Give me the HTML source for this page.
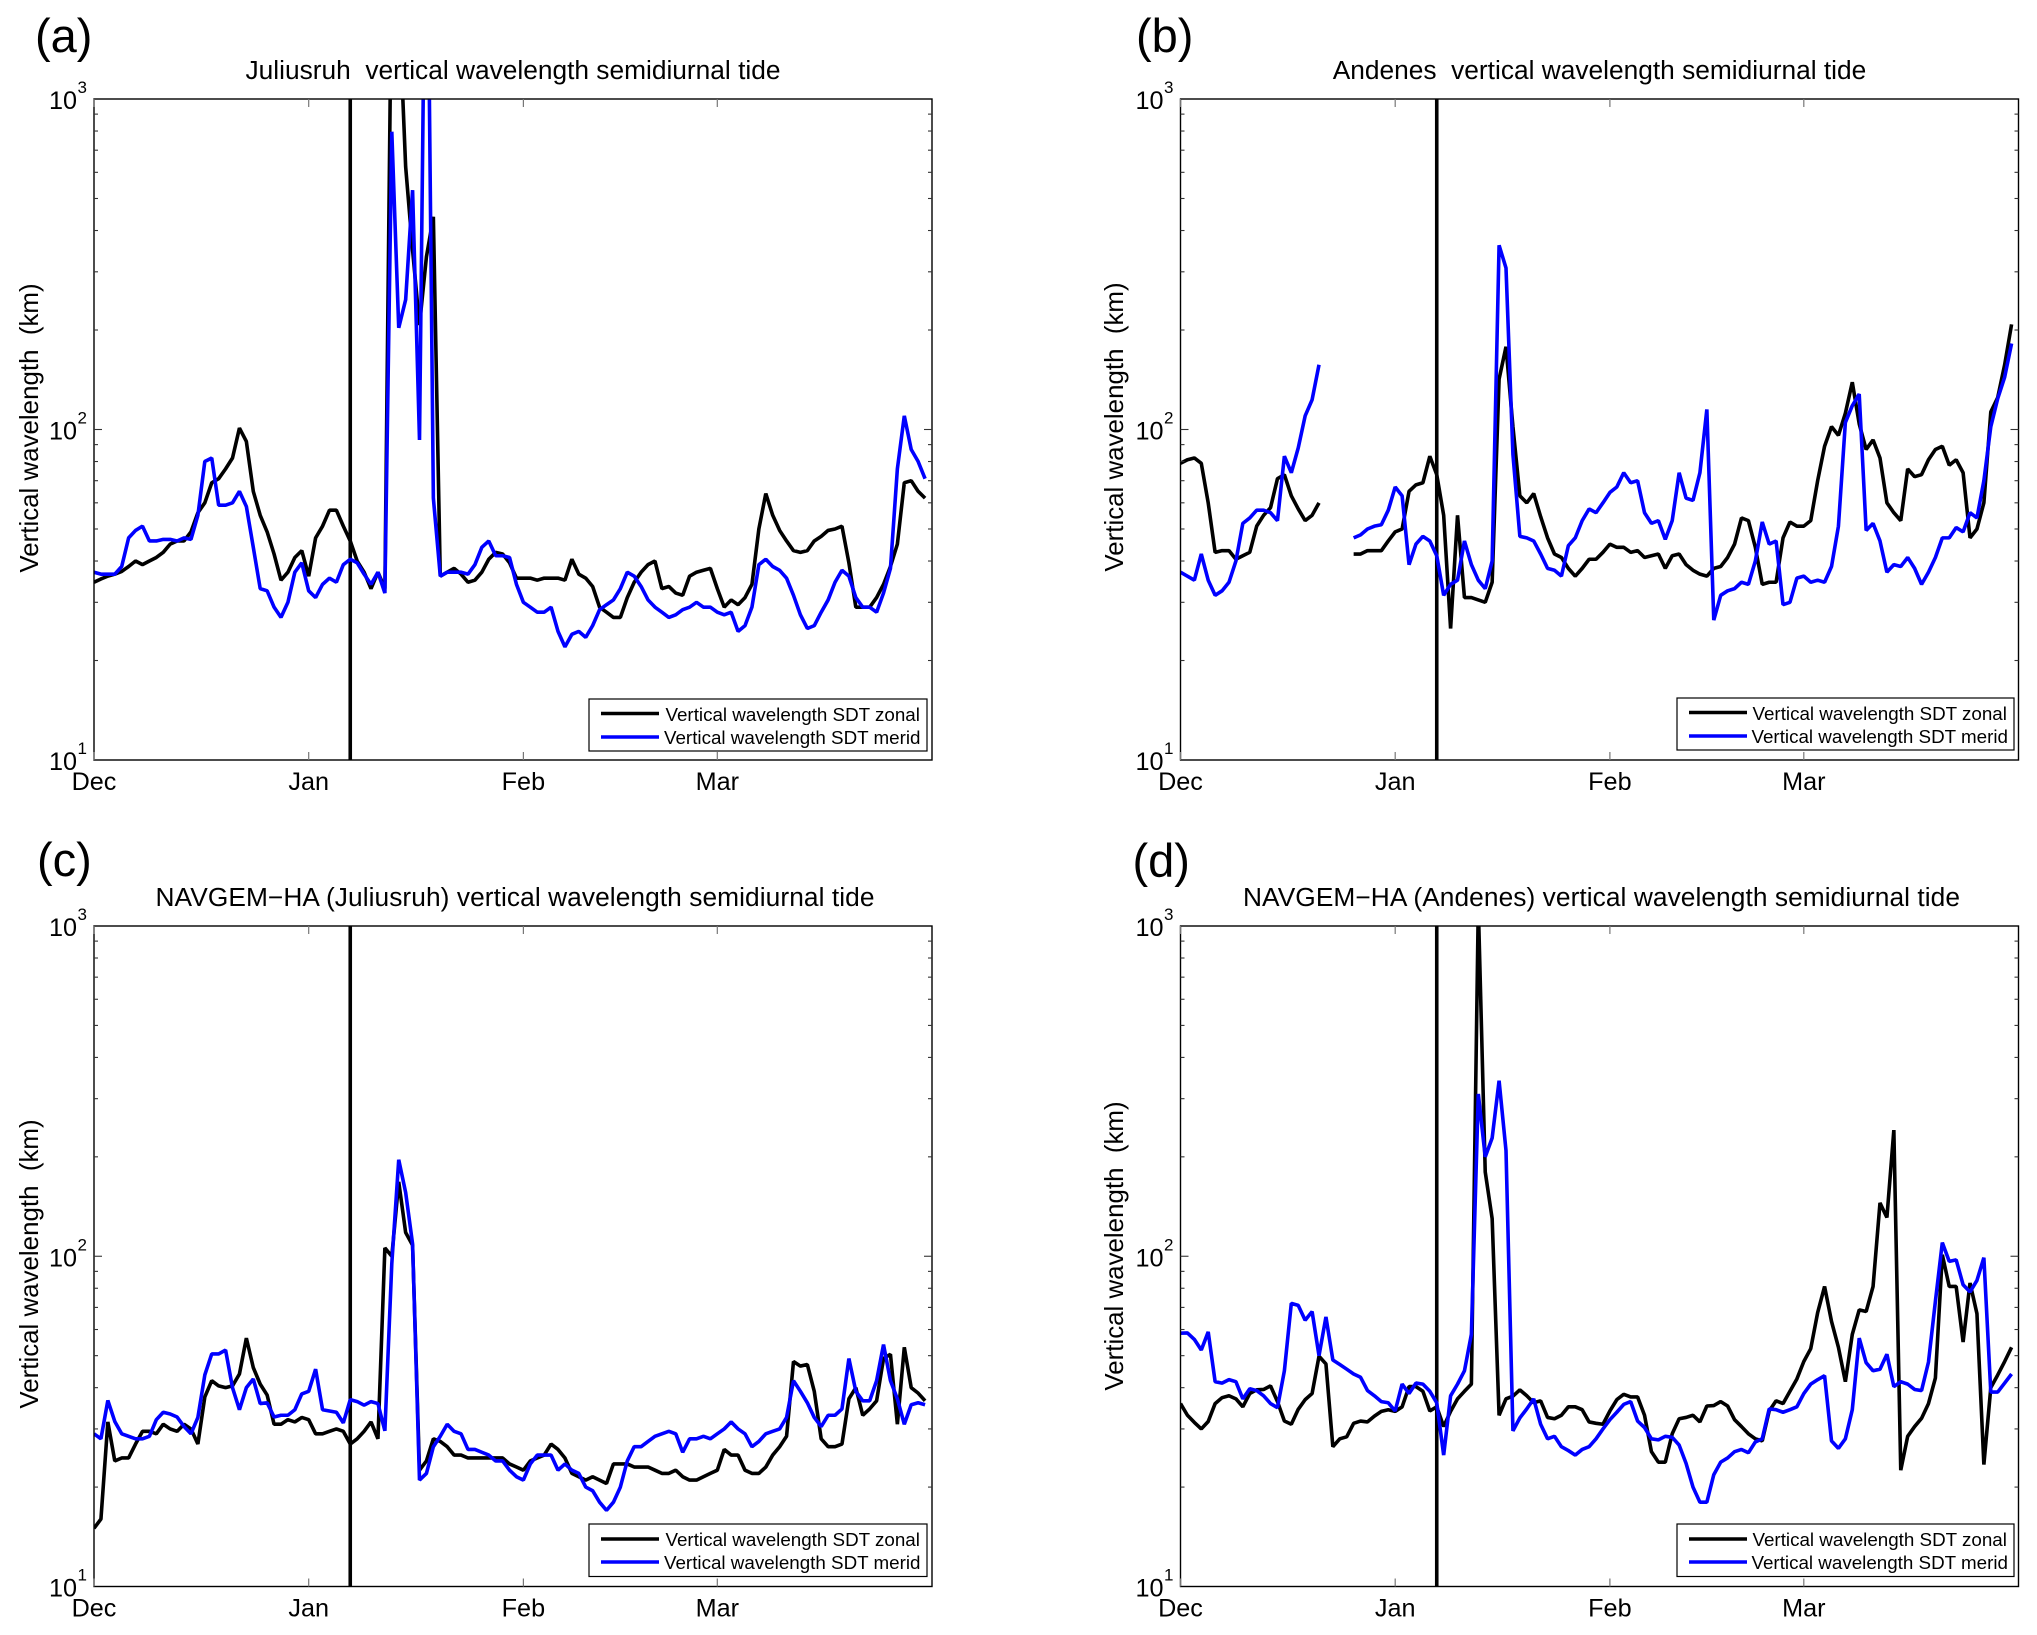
<!DOCTYPE html>
<html lang="en">
<head>
<meta charset="utf-8">
<title>Vertical wavelength semidiurnal tide</title>
<style>
html,body{margin:0;padding:0;background:#fff;}
svg{display:block;}
text{font-family:"Liberation Sans",Arial,sans-serif;fill:#000;white-space:pre;}
.panel-letter{font-size:47px;}
.title{font-size:26.3px;text-anchor:middle;}
.ylabel{font-size:25.9px;text-anchor:middle;}
.legend-text{font-size:18.8px;}
.tick{font-size:25.2px;}
.sup{font-size:17px;}
</style>
</head>
<body>
<svg id="figure" xmlns="http://www.w3.org/2000/svg" width="2037" height="1635" viewBox="0 0 2037 1635">
<rect x="0" y="0" width="2037" height="1635" fill="#fff"/>

<g id="panel-a">
  <text class="panel-letter" x="35" y="52">(a)</text>
  <text class="title" x="513" y="79">Juliusruh  vertical wavelength semidiurnal tide</text>
  <text class="ylabel" transform="translate(38 428) rotate(-90)">Vertical wavelength  (km)</text>
</g>
<g id="panel-b">
  <text class="panel-letter" x="1136" y="52">(b)</text>
  <text class="title" x="1599.5" y="79">Andenes  vertical wavelength semidiurnal tide</text>
  <text class="ylabel" transform="translate(1123 427) rotate(-90)">Vertical wavelength  (km)</text>
</g>
<g id="panel-c">
  <text class="panel-letter" x="37" y="876">(c)</text>
  <text class="title" x="515" y="906" textLength="719">NAVGEM−HA (Juliusruh) vertical wavelength semidiurnal tide</text>
  <text class="ylabel" transform="translate(38 1264) rotate(-90)">Vertical wavelength  (km)</text>
</g>
<g id="panel-d">
  <text class="panel-letter" x="1132.5" y="877">(d)</text>
  <text class="title" x="1601.5" y="906" textLength="717">NAVGEM−HA (Andenes) vertical wavelength semidiurnal tide</text>
  <text class="ylabel" transform="translate(1123 1246) rotate(-90)">Vertical wavelength  (km)</text>
</g>

<g id="legend-a">
  <rect x="589" y="699" width="338" height="52" fill="#fff" stroke="#000" stroke-width="1.2"/>
  <line x1="601" y1="713.5" x2="659" y2="713.5" stroke="#000" stroke-width="3.5"/>
  <line x1="601" y1="737" x2="659" y2="737" stroke="#00f" stroke-width="3.5"/>
  <text class="legend-text" x="665.5" y="721">Vertical wavelength SDT zonal</text>
  <text class="legend-text" x="664" y="744">Vertical wavelength SDT merid</text>
</g>
<g id="legend-b">
  <rect x="1677" y="698" width="337" height="52" fill="#fff" stroke="#000" stroke-width="1.2"/>
  <line x1="1689" y1="712.5" x2="1747" y2="712.5" stroke="#000" stroke-width="3.5"/>
  <line x1="1689" y1="736" x2="1747" y2="736" stroke="#00f" stroke-width="3.5"/>
  <text class="legend-text" x="1752.5" y="720">Vertical wavelength SDT zonal</text>
  <text class="legend-text" x="1751.5" y="743">Vertical wavelength SDT merid</text>
</g>
<g id="legend-c">
  <rect x="589" y="1524" width="338" height="52.5" fill="#fff" stroke="#000" stroke-width="1.2"/>
  <line x1="601" y1="1539" x2="659" y2="1539" stroke="#000" stroke-width="3.5"/>
  <line x1="601" y1="1562" x2="659" y2="1562" stroke="#00f" stroke-width="3.5"/>
  <text class="legend-text" x="665.5" y="1546">Vertical wavelength SDT zonal</text>
  <text class="legend-text" x="664" y="1569">Vertical wavelength SDT merid</text>
</g>
<g id="legend-d">
  <rect x="1677" y="1524" width="337" height="52.5" fill="#fff" stroke="#000" stroke-width="1.2"/>
  <line x1="1689" y1="1539" x2="1747" y2="1539" stroke="#000" stroke-width="3.5"/>
  <line x1="1689" y1="1562" x2="1747" y2="1562" stroke="#00f" stroke-width="3.5"/>
  <text class="legend-text" x="1752.5" y="1546">Vertical wavelength SDT zonal</text>
  <text class="legend-text" x="1751.5" y="1569">Vertical wavelength SDT merid</text>
</g>
</svg>

<script>
const monthLabels = ['Dec', 'Jan', 'Feb', 'Mar'];
const monthStartDays = [0, 31, 62, 90];
const dayCount = 121;
const eventDay = 37;
const decadeExponents = [1, 2, 3];
const minorMultipliers = [2, 3, 4, 5, 6, 7, 8, 9];

const juliusruhZonal = [
34.5,35.3,36,36.5,37.2,38.5,40,39,40,41,
42.5,45,46,46,49,56,60,69,71,76,
82,101,92,65,55,49,42,35,37,41,
43,36,47,51,57,57,51,46,40,37,
33,37,33,2900,2000,624,349,207,333,440,
36,37,38,36.5,34.5,35,37,40.5,42.5,42,
39.5,35.5,35.5,35.5,35,35.5,35.5,35.5,35,40.5,
36.5,35.5,33.5,29,28,27,27,31,34.5,37,
39,40,33,33.5,32,31.5,36,37,37.5,38,
33,29,30.5,29.5,31,34,50,64,55,49.5,
46,43,42.5,43,46,47.5,49.5,50,51,39.5,
29,29,29,31,34,38.5,45,69,70,65,62];
const juliusruhMerid = [
37,36.5,36.5,36.5,38.5,47,49.5,51,46,46,
46.5,46.5,46,47,46.5,55,80,82,59,59,
60,65,58.5,44,33,32.5,29,27,30,37,
39.5,32.5,31,34,35.5,34.5,39,40.5,39.5,36.5,
34,37,32,796,203,247,530,93,8000,62,
36,37,37,37,36.5,39,44,46,41.5,41.5,
41,34,30,29,28,28,29,24.5,22,24,
24.5,23.5,25.5,28.5,29.5,30.5,33,37,36,33.5,
30.5,29,28,27,27.5,28.5,29,30,29,29,
28,27.5,28,24.5,25.5,29,39,40.5,38.5,37.5,
35.5,31.5,27.5,25,25.5,28,30.5,34.5,37.5,36,
31,29,29,28,32,38,76,110,87,80,71];
const andenesZonal = [
79,81,82,79,60,42.5,43,43,40.5,41.5,
42.5,51,55,58,71,73,63,57.5,53,55,
60,null,null,null,null,42,42,43,43,43,
46,49,50,65,68,69,83,73,55,25,
55,31,31,30.5,30,34.5,142,178,102,63,
60,64,54.5,47,42,41,38,36,38,40.5,
40.5,42.5,45,44,44,42.5,43,41,41.5,42,
38,41.5,42,39,37.5,36.5,36,38,38.5,41,
45,54,53,44,34,34.5,34.5,47,52.5,51,
51,53,70,89,102,96,112,139,104,87,
93,82,60,56,53,76,72,73,81,87,
89,78,81,74,47,50,60,113,125,157,208];
const andenesMerid = [
37,36,35,42,35,31.5,32.5,34.5,40,52,
54,57,57,56,53,83,74,88,110,123,
157,null,null,null,null,47,48,50,51,51.5,
57,67,63,39,45,47.5,46,41.5,31.5,34,
35,46,39,35,33,40,361,308,84,47.5,
47,46,42,38,37.5,36,44.5,47,53,57.5,
56,60,64.5,67,74,69,70,56,52,53,
46.5,53,74,62,61,74,115,26.5,31.5,32.5,
33,34.5,34,40,52.5,45,46,29.5,30,35.5,
36,34.5,35,34.5,38.5,51,105,118,128,49.5,
52,46,37,39,38.5,41,38,34,37,41,
47,47,50.5,49,56,54,70,102,124,144,182];
const navgemJuliusruhZonal = [
15,16,31.5,24,24.5,24.5,27,29.5,29.5,29,
31,30,29.5,31,30,27,37.5,42,40.5,40,
40.5,44,56.5,46,41,38,31,31,32,31.5,
32.5,32,29,29,29.5,30,29.5,27,28,29.5,
31.5,28,106,100,168,118,108,22.5,24,28,
27.5,26.5,25,25,24.5,24.5,24.5,24.5,24.5,24.5,
23.5,23,22.5,24,24.5,25,27,26,24.5,22,
21.5,21,21.5,21,20.5,23.5,23.5,23.5,23,23,
23,22.5,22,22,22.5,21.5,21,21,21.5,22,
22.5,26,25,25,22.5,22,22,23,25,26.5,
28.5,48,46.5,47,39,28,26.5,26.5,27,37,
40,33,34.5,36.5,49,50.5,31,53,40,38.5,36.5];
const navgemJuliusruhMerid = [
29,28,36.6,31.6,29,28.5,28,28,28.5,32,
33.7,33.3,32.6,30.5,29,32.5,43.7,50.6,50.6,52,
40,34.3,40,42.5,35.8,36,32.6,33,33,34.3,
38.3,39,45.5,34.3,34,33.7,31.3,36.8,36.3,35.4,
36.3,35.8,29.6,95,196,156,109,21,22,26.5,
28.5,31,29.5,29,26,26,25.5,25,24,24,
22.5,21.5,21,23.5,25,25,25,22.5,23.5,22.5,
22,20,19.5,18,17,18,20,24,26.5,26.5,
27.5,28.5,29,29.5,29,25.5,28,28,28.5,28,
29,30,31.5,30,29,26.5,27.5,29,29.5,30,
32.5,42,39,36,32.5,30.5,33,33,34.5,49,
39,36.5,36.5,42,54,42,37,31,35.5,36,35.5];
const navgemAndenesZonal = [
35.8,33,31.4,30,31.6,35.8,37.3,37.8,37,35,
38.4,39.4,39.5,40.5,36.3,31.7,31,34.4,36.8,38.4,
49.8,47.2,26.5,28,28.4,31.2,31.7,31.5,32.8,33.9,
34.3,33.9,35,40.3,40.3,39,34,35,30.5,33.9,
37,39,41,1150,180,130,33,37,37.7,39.4,
37.8,36,36.5,32.5,32.2,33,35,35,34.3,31.5,
31.2,31,34,36.8,38.2,37.5,37.5,33,25.6,23.8,
23.8,29,32.2,32.5,33,31.5,35.2,35.3,36.3,35.2,
32,30.5,29,28,27.6,34,36.5,35.8,39,42.5,
48,52.5,67.5,81,63.5,53,41.7,58,68.8,68,
81,145,131,241,22.5,28.5,30.5,32.3,35.8,42.8,
101,81,81,55,83,67,23.4,40,43.7,48,53];
const navgemAndenesMerid = [
58.5,58.6,56,52,59,41.7,41.3,42.3,41.7,37,
39.7,39.2,37.8,35.8,34.8,45,72,71,64,68,
50,65.5,48.5,47,45.5,44,43,39.2,37.8,36.3,
36,34,41,38.4,41.3,41,39,36,25,37.8,
41,45,58,310,200,228,340,209,29.6,32.4,
34.5,37,31,28,28.5,26.5,25.8,25,26,26.5,
28,30,32,33.7,35.6,36.3,31.7,30.3,28,27.8,
28.5,28.3,26.8,23.6,20,18,18,21.8,23.8,24.5,
25.6,26,25.4,27.4,28,34.5,34.3,33.7,34.3,35,
38.4,41,42.3,43.5,27.6,26.2,28,34.3,56.5,47.6,
45,45.5,50.5,40.3,41.7,41,39.5,39.2,47.8,73,
110,96.5,97.5,82,78,84.5,99,38.8,38.8,41.3,44];

const SVG_NS = 'http://www.w3.org/2000/svg';
const svgRoot = document.getElementById('figure');

function makeEl(tag, attrs, parent) {
  const el = document.createElementNS(SVG_NS, tag);
  for (const k in attrs) el.setAttribute(k, attrs[k]);
  parent.appendChild(el);
  return el;
}

function drawPanel(id, box, zonal, merid) {
  const host = document.getElementById('panel-' + id);
  const xScale = d => box.left + d * (box.right - box.left) / dayCount;
  const yScale = v => box.top + (3 - Math.log10(v)) * (box.bottom - box.top) / 2;

  const clip = makeEl('clipPath', { id: 'clip-' + id }, host);
  makeEl('rect', { x: box.left, y: box.top, width: box.right - box.left, height: box.bottom - box.top }, clip);

  function seriesPath(values) {
    let d = '';
    let pen = false;
    values.forEach((v, i) => {
      if (v === null) { pen = false; return; }
      d += (pen ? 'L' : 'M') + xScale(i).toFixed(2) + ' ' + yScale(v).toFixed(2);
      pen = true;
    });
    return d;
  }

  const plot = makeEl('g', { 'clip-path': 'url(#clip-' + id + ')' }, host);

  const eventLine = makeEl('line', { x1: xScale(eventDay), x2: xScale(eventDay), y1: box.top, y2: box.bottom, stroke: '#000', 'stroke-width': 3.6 }, plot);
  
  

  const zonalLine = makeEl('path', { d: seriesPath(zonal), fill: 'none', stroke: '#000', 'stroke-width': 3.6, 'stroke-linejoin': 'bevel' }, plot);
  
  

  const meridLine = makeEl('path', { d: seriesPath(merid), fill: 'none', stroke: '#00f', 'stroke-width': 3.6, 'stroke-linejoin': 'bevel' }, plot);
  
  

  const frame = makeEl('rect', { x: box.left, y: box.top, width: box.right - box.left, height: box.bottom - box.top, fill: 'none', stroke: '#000', 'stroke-width': 1.4 }, host);
  
  

  const xAxis = makeEl('g', {}, host);
  
  
  monthStartDays.forEach((day, i) => {
    const x = xScale(day);
    makeEl('line', { x1: x, x2: x, y1: box.bottom, y2: box.bottom - 8, stroke: '#777', 'stroke-width': 1.2 }, xAxis);
    makeEl('line', { x1: x, x2: x, y1: box.top, y2: box.top + 8, stroke: '#777', 'stroke-width': 1.2 }, xAxis);
    const label = makeEl('text', { x: x, y: box.bottom + 30, 'text-anchor': 'middle', class: 'tick' }, xAxis);
    label.textContent = monthLabels[i];
    
    
  });

  const yAxis = makeEl('g', {}, host);
  
  
  decadeExponents.forEach(exp => {
    const y = yScale(Math.pow(10, exp));
    if (exp > 1 && exp < 3) {
      makeEl('line', { x1: box.left, x2: box.left + 8, y1: y, y2: y, stroke: '#333', 'stroke-width': 1.1 }, yAxis);
      makeEl('line', { x1: box.right, x2: box.right - 8, y1: y, y2: y, stroke: '#333', 'stroke-width': 1.1 }, yAxis);
    }
    const base = makeEl('text', { x: box.left - 17, y: y + 10, 'text-anchor': 'end', class: 'tick' }, yAxis);
    base.textContent = '10';
    
    
    const sup = makeEl('text', { x: box.left - 16.5, y: y - 6, class: 'sup' }, yAxis);
    sup.textContent = String(exp);
    
    
    if (exp < 3) {
      minorMultipliers.forEach(m => {
        const my = yScale(m * Math.pow(10, exp));
        makeEl('line', { x1: box.left, x2: box.left + 4, y1: my, y2: my, stroke: '#333', 'stroke-width': 1.1 }, yAxis);
        makeEl('line', { x1: box.right, x2: box.right - 4, y1: my, y2: my, stroke: '#333', 'stroke-width': 1.1 }, yAxis);
      });
    }
  });
}

drawPanel('a', { left: 94, right: 932, top: 99, bottom: 760 }, juliusruhZonal, juliusruhMerid);
drawPanel('b', { left: 1180.5, right: 2018.5, top: 99, bottom: 760 }, andenesZonal, andenesMerid);
drawPanel('c', { left: 94, right: 932, top: 926, bottom: 1586.5 }, navgemJuliusruhZonal, navgemJuliusruhMerid);
drawPanel('d', { left: 1180.5, right: 2018.5, top: 926, bottom: 1586.5 }, navgemAndenesZonal, navgemAndenesMerid);

['a', 'b', 'c', 'd'].forEach(id => svgRoot.appendChild(document.getElementById('legend-' + id)));
</script>
</body>
</html>
